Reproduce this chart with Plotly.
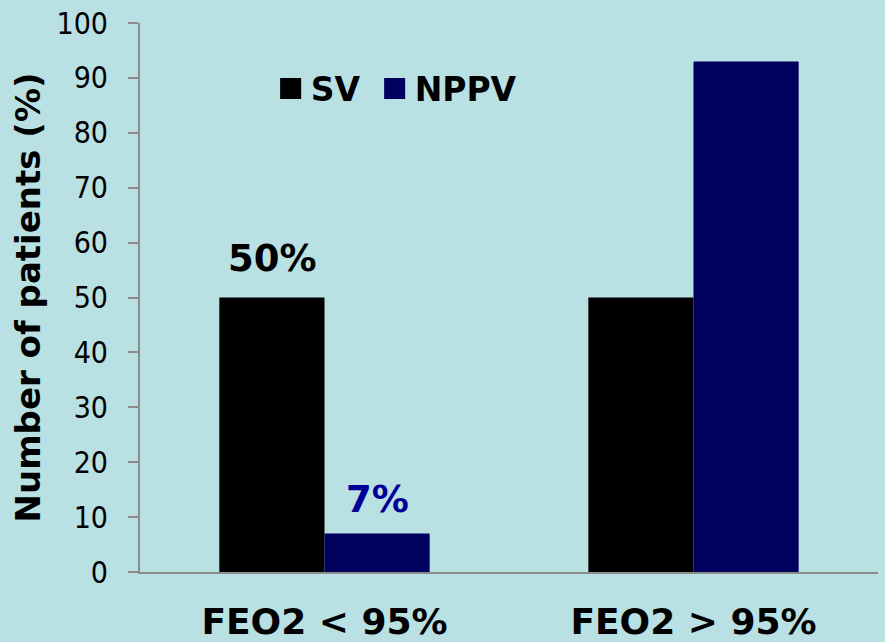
import plotly.graph_objects as go

# Data
categories = ["FEO2 < 95%", "FEO2 > 95%"]
sv_values = [50, 50]
nppv_values = [7, 93]
sv_labelled = [True, False]
nppv_labelled = [True, False]
y_ticks = list(range(0, 101, 10))

BG = "#b9e0e3"
SV_COLOR = "#000000"
NPPV_COLOR = "#00005f"
NPPV_TEXT = "#000099"
AXIS_COLOR = "#8c8c8c"
FONT = "DejaVu Sans, Verdana, sans-serif"
FONT_TICK = "DejaVu Sans Condensed, DejaVu Sans, sans-serif"

fig = go.Figure()

fig.add_trace(go.Bar(
    x=categories, y=sv_values, name="SV",
    marker=dict(color=SV_COLOR, line=dict(width=0)),
    showlegend=False,
))
fig.add_trace(go.Bar(
    x=categories, y=nppv_values, name="NPPV",
    marker=dict(color=NPPV_COLOR, line=dict(width=0)),
    showlegend=False,
))

# Legend entries with large square swatches
for name, color, entry_w in [("SV", SV_COLOR, 59), ("NPPV", NPPV_COLOR, 115)]:
    fig.add_trace(go.Scatter(
        x=[None], y=[None], mode="markers", name=name,
        marker=dict(symbol="square", size=16, color=color,
                    line=dict(color=color, width=5)),
        showlegend=True, legendwidth=entry_w,
    ))

# Value labels above the selected bars
half_bar = 52.5
for cat, v, show in zip(categories, sv_values, sv_labelled):
    if show:
        fig.add_annotation(x=cat, y=v, text=f"{v}%", showarrow=False,
                           xshift=-half_bar, yshift=16, yanchor="bottom",
                           font=dict(family=FONT, size=37, color="#000000", weight="bold"))
for cat, v, show in zip(categories, nppv_values, nppv_labelled):
    if show:
        fig.add_annotation(x=cat, y=v, text=f"{v}%", showarrow=False,
                           xshift=half_bar, yshift=11, yanchor="bottom",
                           font=dict(family=FONT, size=37, color=NPPV_TEXT, weight="bold"))

fig.update_layout(
    width=885, height=642,
    paper_bgcolor=BG, plot_bgcolor=BG,
    margin=dict(l=140, r=7, t=23, b=70, autoexpand=False),
    barmode="group", bargap=0.43, bargroupgap=0,
    font=dict(family=FONT, color="#000000"),
    legend=dict(
        orientation="h", x=0.177, y=0.8807, xanchor="left", yanchor="middle",
        bgcolor="rgba(0,0,0,0)",
        font=dict(family=FONT, size=33, color="#000000", weight="bold"),
        itemsizing="trace",
    ),
    xaxis=dict(
        showline=True, linecolor=AXIS_COLOR, linewidth=2, automargin=False,
        ticks="", showgrid=False, ticklabelstandoff=17,
        tickfont=dict(family=FONT, size=36, color="#000000", weight="bold"),
    ),
    yaxis=dict(
        range=[0, 100], tickvals=y_ticks, automargin=False,
        showline=True, linecolor=AXIS_COLOR, linewidth=2,
        ticks="outside", ticklen=10, tickcolor=AXIS_COLOR, tickwidth=2,
        showgrid=False, zeroline=False, ticklabelstandoff=14,
        tickfont=dict(family=FONT_TICK, size=30, color="#000000"),
        title=dict(text="Number of patients (%)", standoff=6,
                   font=dict(family=FONT, size=34, color="#000000", weight="bold")),
    ),
)

fig.write_html("out.html")
